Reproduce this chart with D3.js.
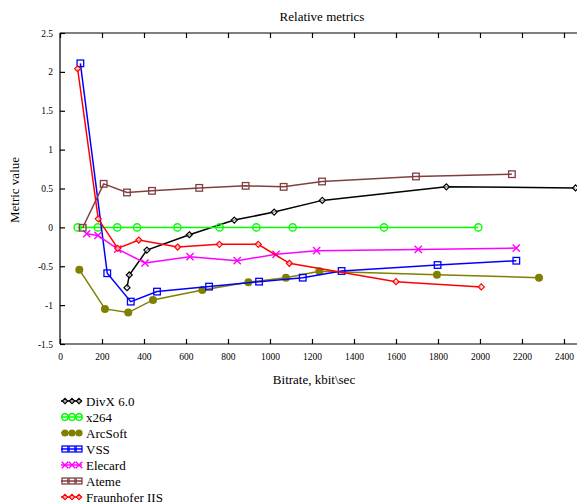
<!DOCTYPE html>
<html><head><meta charset="utf-8">
<script src="https://cdn.jsdelivr.net/npm/d3@7"></script>
<style>body{margin:0;background:#fff;}svg{display:block;font-family:"Liberation Serif","Times New Roman",serif;}</style>
</head><body><svg id="c" width="577" height="504"></svg>
<script>
const seriesNames = ["DivX 6.0","x264","ArcSoft","VSS","Elecard","Ateme","Fraunhofer IIS"];
const seriesColors = ["#000000","#00ff00","#808000","#0000ff","#ff00ff","#804040","#ff0000"];
const seriesMarkers = ["diamond","circle","dot","square","cross","square","diamond"];
const divx = [[319,-0.775],[330,-0.612],[414,-0.292],[616,-0.095],[830,0.094],[1020,0.197],[1249,0.347],[1840,0.521],[2455,0.508]];
const x264 = [[84,0],[180,0],[273,0],[367,0],[559,0],[760,0],[935,0],[1108,0],[1543,0],[1992,0]];
const arcsoft = [[92,-0.544],[214,-1.049],[325,-1.096],[443,-0.933],[678,-0.805],[897,-0.706],[1076,-0.647],[1235,-0.565],[1795,-0.608],[2281,-0.647]];
const vss = [[97,2.11],[225,-0.59],[337,-0.955],[462,-0.826],[710,-0.762],[948,-0.698],[1156,-0.647],[1341,-0.561],[1798,-0.484],[2173,-0.429]];
const elecard = [[127,-0.082],[181,-0.103],[275,-0.279],[405,-0.458],[619,-0.377],[844,-0.428],[1029,-0.347],[1222,-0.300],[1706,-0.283],[2173,-0.266]];
const ateme = [[108,-0.005],[208,0.56],[319,0.449],[438,0.47],[663,0.508],[884,0.534],[1065,0.521],[1248,0.59],[1695,0.655],[2152,0.684]];
const fraunhofer = [[84,2.04],[182,0.11],[275,-0.27],[375,-0.163],[560,-0.253],[759,-0.218],[944,-0.218],[1092,-0.462],[1600,-0.698],[2006,-0.766]];
const seriesData = [divx,x264,arcsoft,vss,elecard,ateme,fraunhofer];
const xTicks = [0,200,400,600,800,1000,1200,1400,1600,1800,2000,2200,2400];
const yTicks = [-1.5,-1,-0.5,0,0.5,1,1.5,2,2.5];
const titleText = "Relative metrics", xLabel = "Bitrate, kbit\\sec", yLabel = "Metric value";

const svg = d3.select("#c");
const L = 60, R = 577, T = 33, B = 344;
const x = d3.scaleLinear().domain([0, 2462]).range([L, R]);
const y = d3.scaleLinear().domain([-1.5, 2.5]).range([B, T]);

svg.append("defs").append("clipPath").attr("id","clip").append("rect")
  .attr("x", L-10).attr("y", T-10).attr("width", R-L+10).attr("height", B-T+20);

// axes
const ax = svg.append("g").attr("stroke","#000").attr("stroke-width",1.2).attr("fill","none");
ax.append("line").attr("x1",L).attr("x2",R).attr("y1",T).attr("y2",T);
ax.append("line").attr("x1",L).attr("x2",R).attr("y1",B).attr("y2",B);
ax.append("line").attr("x1",L).attr("x2",L).attr("y1",T).attr("y2",B);
const gx = svg.append("g").attr("transform",`translate(0,${B})`)
  .call(d3.axisBottom(x).tickValues(xTicks).tickSize(-5).tickPadding(9).tickFormat(d3.format("d")));
const gxt = svg.append("g").attr("transform",`translate(0,${T})`)
  .call(d3.axisTop(x).tickValues(xTicks).tickSize(-5).tickFormat(""));
const gy = svg.append("g").attr("transform",`translate(${L},0)`)
  .call(d3.axisLeft(y).tickValues(yTicks).tickSize(-5).tickPadding(9).tickFormat(d => String(d)));
[gx,gxt,gy].forEach(g => {
  g.select(".domain").remove();
  g.selectAll(".tick line").attr("stroke","#000").attr("stroke-width",1.2);
  g.selectAll("text").attr("font-family","Liberation Serif, serif").attr("font-size",9.5).attr("fill","#000");
});
gy.selectAll("text").attr("dx", 2);

svg.append("text").attr("x",322).attr("y",21).attr("text-anchor","middle").attr("font-size",13).text(titleText);
svg.append("text").attr("x",314).attr("y",384).attr("text-anchor","middle").attr("font-size",13).text(xLabel);
svg.append("text").attr("transform","translate(19,190) rotate(-90)").attr("text-anchor","middle").attr("font-size",13).text(yLabel);

function marker(g, type, color, cx, cy, s) {
  if (type === "diamond") {
    g.append("path").attr("d",`M${cx},${cy-3*s}L${cx+3*s},${cy}L${cx},${cy+3*s}L${cx-3*s},${cy}Z`)
      .attr("fill","#fff").attr("fill-opacity",0.6).attr("stroke",color).attr("stroke-width",1.2);
  } else if (type === "circle") {
    g.append("circle").attr("cx",cx).attr("cy",cy).attr("r",3.6*s).attr("fill","none").attr("stroke",color).attr("stroke-width",1.4);
  } else if (type === "dot") {
    g.append("circle").attr("cx",cx).attr("cy",cy).attr("r",4*s).attr("fill",color);
  } else if (type === "square") {
    g.append("rect").attr("x",cx-3.3*s).attr("y",cy-3.3*s).attr("width",6.6*s).attr("height",6.6*s)
      .attr("fill","none").attr("stroke",color).attr("stroke-width",1.3);
  } else if (type === "cross") {
    g.append("path").attr("d",`M${cx-3.6*s},${cy-3.6*s}L${cx+3.6*s},${cy+3.6*s}M${cx-3.6*s},${cy+3.6*s}L${cx+3.6*s},${cy-3.6*s}`)
      .attr("stroke",color).attr("stroke-width",1.4);
  }
}

const plot = svg.append("g").attr("clip-path","url(#clip)");
const line = d3.line().x(d => x(d[0])).y(d => y(d[1]));
seriesData.forEach((data, i) => {
  const g = plot.append("g");
  g.append("path").datum(data).attr("d", line).attr("fill","none")
    .attr("stroke", seriesColors[i]).attr("stroke-width",1.5);
  data.forEach(d => marker(g, seriesMarkers[i], seriesColors[i], x(d[0]), y(d[1]), 1));
});

// legend
const lg = svg.append("g");
seriesNames.forEach((name, i) => {
  const cy = 401 + i * 16;
  const g = lg.append("g");
  g.append("line").attr("x1",61).attr("x2",82).attr("y1",cy).attr("y2",cy).attr("stroke",seriesColors[i]).attr("stroke-width",1.5);
  [65, 72, 79].forEach(cx => marker(g, seriesMarkers[i], seriesColors[i], cx, cy, 0.9));
  g.append("text").attr("x",86).attr("y",cy+4.5).attr("font-size",13).text(name);
});
</script></body></html>
